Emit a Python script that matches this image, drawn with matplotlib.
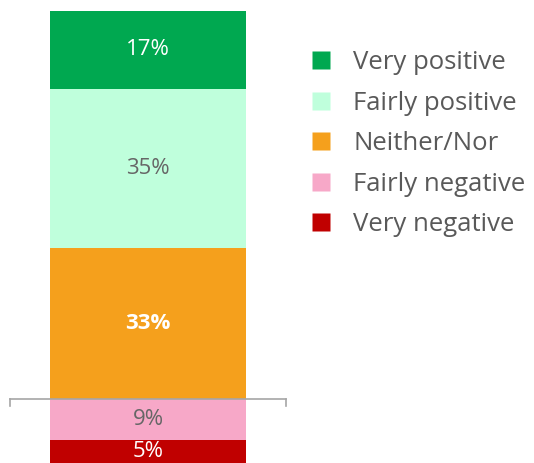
import matplotlib.pyplot as plt
from matplotlib.lines import Line2D

# Data: share of responses, negatives stack below the zero line
categories = ["Very positive", "Fairly positive", "Neither/Nor", "Fairly negative", "Very negative"]
values = [17, 35, 33, 9, 5]
signs = [1, 1, 1, -1, -1]
colors = ["#00A850", "#BFFFDC", "#F5A01C", "#F7A8C8", "#C00000"]
label_colors = ["white", "#666666", "white", "#666666", "white"]
label_weights = ["normal", "normal", "bold", "normal", "normal"]

plt.rcParams["font.family"] = ["Open Sans", "DejaVu Sans"]

fig = plt.figure(figsize=(5.34, 4.63), dpi=100)
ax = fig.add_axes([0, 0, 1, 1])

# stack positives upward from 0 (bottom-up: Neither, Fairly pos, Very pos)
# and negatives downward from 0 (Fairly neg, Very neg)
pos_base = 0
neg_base = 0
order = [2, 1, 0, 3, 4]
for i in order:
    v = values[i]
    if signs[i] > 0:
        bottom = pos_base
        pos_base += v
    else:
        bottom = neg_base - v
        neg_base -= v
    ax.bar(0, v, bottom=bottom, width=1.0, color=colors[i], edgecolor="none")
    ax.text(0, bottom + v / 2, f"{v}%", ha="center", va="center",
            fontsize=16, color=label_colors[i], fontweight=label_weights[i])

# zero line with small end ticks
ax.axhline(0, xmin=10 / 534, xmax=286 / 534, color="#A6A6A6", lw=1.2)
for xe in (-0.704, 0.704):
    ax.plot([xe, xe], [0, -1.6], color="#A6A6A6", lw=1.2)

ax.set_xlim(-0.755, 1.969)
ax.set_ylim(-14.02, 87.41)
ax.axis("off")

handles = [Line2D([], [], marker="s", linestyle="none", markersize=13.5,
                  markerfacecolor=c, markeredgecolor="none") for c in colors]
leg = ax.legend(handles, categories, loc="upper left",
                bbox_to_anchor=(298 / 534, 1 - 40 / 463), frameon=False,
                fontsize=18.5, labelspacing=0.6, handletextpad=0.75,
                handlelength=1.0, borderaxespad=0)
for t in leg.get_texts():
    t.set_color("#595959")

fig.savefig("out.png", dpi=100)
